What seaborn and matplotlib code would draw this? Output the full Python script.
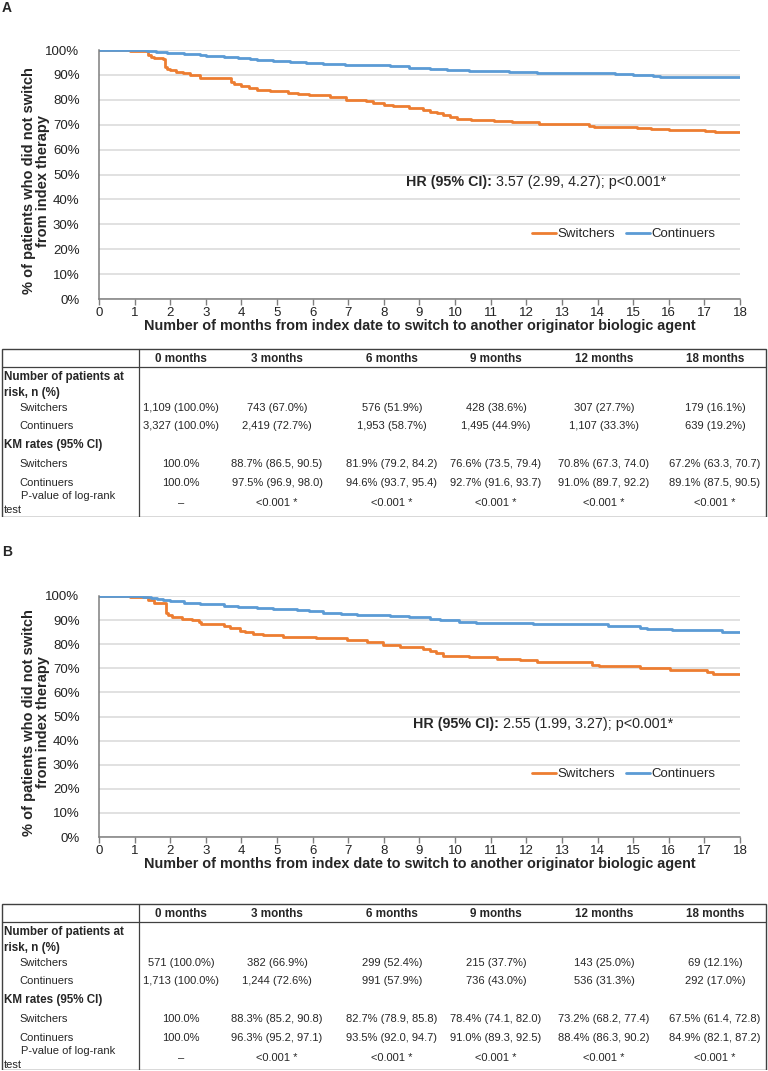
import numpy as np
import pandas as pd
import matplotlib
matplotlib.use("Agg")
import matplotlib.pyplot as plt
from matplotlib.patches import Rectangle
import seaborn as sns

# ---- KM curves (month, % not switched, steps-post) ----
a_sw_month = [0, 0.87, 1.25, 1.38, 1.45, 1.55, 1.80, 1.86, 1.90, 2.00, 2.15, 2.35, 2.55, 2.84, 3.30,
              3.72, 3.78, 4.00, 4.20, 4.43, 4.80, 5.30, 5.60, 5.90, 6.50, 6.95, 7.50, 7.70, 8.00,
              8.25, 8.70, 9.10, 9.30, 9.50, 9.67, 9.85, 10.05, 10.45, 11.10, 11.60, 12.35, 13.75,
              13.90, 15.10, 15.50, 16.00, 17.03, 17.30, 17.90, 18.00]
a_sw_pct = [100, 99.7, 99.4, 98.0, 97.0, 96.7, 96.3, 93.0, 92.3, 91.8, 91.2, 90.6, 90.1, 88.8, 88.6,
            87.0, 86.2, 85.4, 84.6, 84.0, 83.4, 82.9, 82.3, 81.8, 81.1, 80.1, 79.5, 78.6, 78.0,
            77.4, 76.6, 76.1, 75.2, 74.5, 73.7, 72.9, 72.4, 71.9, 71.4, 71.0, 70.4, 69.4,
            69.0, 68.7, 68.3, 67.9, 67.5, 67.1, 66.9, 66.9]
a_co_month = [0, 1.35, 1.60, 1.90, 2.40, 2.84, 3.00, 3.50, 3.90, 4.24, 4.43, 4.90, 5.37, 5.80, 6.30,
              6.90, 7.42, 8.17, 8.70, 9.30, 9.77, 10.40, 10.90, 11.50, 12.30, 13.20, 14.50, 15.00,
              15.57, 15.76, 18.00]
a_co_pct = [100, 99.6, 99.1, 98.6, 98.3, 97.8, 97.5, 97.1, 96.7, 96.3, 95.8, 95.4, 95.1, 94.7, 94.3,
            94.1, 93.9, 93.5, 92.9, 92.5, 92.0, 91.7, 91.5, 91.2, 90.9, 90.6, 90.3, 89.9,
            89.6, 89.2, 89.2]

b_sw_month = [0, 0.87, 1.24, 1.38, 1.55, 1.88, 1.95, 2.04, 2.32, 2.60, 2.80, 2.86, 3.50, 3.68, 3.96,
              4.10, 4.33, 4.61, 5.17, 6.10, 6.96, 7.52, 7.98, 8.45, 9.10, 9.30, 9.45, 9.67, 10.40,
              11.17, 11.83, 12.30, 13.85, 14.05, 15.20, 16.04, 17.07, 17.25, 18.00]
b_sw_pct = [100, 99.7, 99.4, 98.3, 97.0, 92.8, 92.0, 91.4, 90.5, 90.0, 89.3, 88.4, 87.7, 86.6, 85.6,
            85.0, 84.4, 83.8, 83.1, 82.4, 81.7, 80.8, 79.7, 78.7, 78.2, 77.3, 76.5, 75.3, 74.6,
            73.9, 73.3, 72.8, 71.5, 71.0, 70.3, 69.4, 68.6, 67.6, 67.6]
b_co_month = [0, 1.24, 1.45, 1.62, 1.80, 2.00, 2.40, 2.84, 3.50, 3.90, 4.43, 4.90, 5.55, 5.90, 6.30,
              6.80, 7.24, 7.70, 8.17, 8.70, 9.30, 9.58, 10.10, 10.60, 11.40, 12.20, 14.30, 15.20,
              15.38, 16.10, 17.50, 18.00]
b_co_pct = [100, 99.7, 99.2, 98.8, 98.3, 97.9, 97.2, 96.5, 95.9, 95.4, 94.9, 94.5, 94.1, 93.6, 93.0,
            92.6, 92.3, 92.0, 91.7, 91.3, 90.6, 89.9, 89.4, 89.0, 88.6, 88.2, 87.4, 86.9,
            86.3, 85.8, 84.9, 84.9]

a_hr = "3.57 (2.99, 4.27); p<0.001*"
b_hr = "2.55 (1.99, 3.27); p<0.001*"

# ---- tables ----
tbl_cols = ["0 months", "3 months", "6 months", "9 months", "12 months", "18 months"]
a_risk_sw = ["1,109 (100.0%)", "743 (67.0%)", "576 (51.9%)", "428 (38.6%)", "307 (27.7%)", "179 (16.1%)"]
a_risk_co = ["3,327 (100.0%)", "2,419 (72.7%)", "1,953 (58.7%)", "1,495 (44.9%)", "1,107 (33.3%)", "639 (19.2%)"]
a_km_sw = ["100.0%", "88.7% (86.5, 90.5)", "81.9% (79.2, 84.2)", "76.6% (73.5, 79.4)", "70.8% (67.3, 74.0)", "67.2% (63.3, 70.7)"]
a_km_co = ["100.0%", "97.5% (96.9, 98.0)", "94.6% (93.7, 95.4)", "92.7% (91.6, 93.7)", "91.0% (89.7, 92.2)", "89.1% (87.5, 90.5)"]
b_risk_sw = ["571 (100.0%)", "382 (66.9%)", "299 (52.4%)", "215 (37.7%)", "143 (25.0%)", "69 (12.1%)"]
b_risk_co = ["1,713 (100.0%)", "1,244 (72.6%)", "991 (57.9%)", "736 (43.0%)", "536 (31.3%)", "292 (17.0%)"]
b_km_sw = ["100.0%", "88.3% (85.2, 90.8)", "82.7% (78.9, 85.8)", "78.4% (74.1, 82.0)", "73.2% (68.2, 77.4)", "67.5% (61.4, 72.8)"]
b_km_co = ["100.0%", "96.3% (95.2, 97.1)", "93.5% (92.0, 94.7)", "91.0% (89.3, 92.5)", "88.4% (86.3, 90.2)", "84.9% (82.1, 87.2)"]
pvals = ["\u2013", "<0.001 *", "<0.001 *", "<0.001 *", "<0.001 *", "<0.001 *"]

ORANGE = "#ED7D31"
BLUE = "#5B9BD5"
W, H = 768, 1071

sns.set_theme(style="white")
plt.rcParams['font.family'] = ['Liberation Sans', 'DejaVu Sans']

fig = plt.figure(figsize=(W / 100, H / 100), dpi=100)
fig.patch.set_facecolor("white")


def km_panel(top, bottom, sw_m, sw_p, co_m, co_p, hr, hr_x, letter, letter_y):
    ax = fig.add_axes([99 / W, 1 - bottom / H, 641 / W, (bottom - top) / H])
    df = pd.concat([
        pd.DataFrame({"month": sw_m, "pct": sw_p, "group": "Switchers"}),
        pd.DataFrame({"month": co_m, "pct": co_p, "group": "Continuers"}),
    ])
    sns.lineplot(data=df, x="month", y="pct", hue="group", palette=[ORANGE, BLUE],
                 estimator=None, sort=False, drawstyle="steps-post", linewidth=2.0,
                 legend=False, ax=ax)
    ax.set_xlim(0, 18)
    ax.set_ylim(0, 100)
    ax.set_xticks(range(0, 19))
    ax.set_yticks(range(0, 101, 10))
    ax.set_yticklabels([f"{v}%" for v in range(0, 101, 10)])
    ax.yaxis.grid(True, color="#d9d9d9", linewidth=1.1)
    ax.set_axisbelow(True)
    for s in ["top", "right"]:
        ax.spines[s].set_visible(False)
    for s in ["left", "bottom"]:
        ax.spines[s].set_color("#7f7f7f")
        ax.spines[s].set_linewidth(1.1)
    ax.tick_params(axis="x", bottom=True, length=4, width=1, color="#7f7f7f",
                   labelsize=9.5, pad=2, labelcolor="#222222")
    ax.tick_params(axis="y", left=False, labelsize=9.5, pad=8, labelcolor="#222222")
    ax.set_xlabel("Number of months from index date to switch to another originator biologic agent",
                  fontsize=10.4, fontweight="bold", labelpad=0)
    ax.set_ylabel("")
    fig.text(36 / W, 1 - ((top + bottom) / 2 + 6) / H,
             "% of patients who did not switch\nfrom index therapy",
             rotation=90, ha="center", va="center", fontsize=10.5, fontweight="bold",
             multialignment="center", linespacing=1.05)
    t1 = ax.text(hr_x, 47, "HR (95% CI):", fontsize=10.3, fontweight="bold",
                 ha="left", va="center")
    ax.annotate(" " + hr, xy=(1, 0), xycoords=t1, ha="left", va="bottom", fontsize=10.3)
    ax.legend(handles=ax.lines[:2], labels=["Switchers", "Continuers"], ncol=2,
              loc="center right", bbox_to_anchor=(0.962, 0.26), frameon=False,
              fontsize=9.5, handlelength=1.8, handletextpad=0.15, columnspacing=0.8,
              borderpad=0, borderaxespad=0)
    fig.text(2 / W, 1 - letter_y / H, letter, fontsize=10, fontweight="bold",
             ha="left", va="center")
    return ax


def table(top, bottom, risk_sw, risk_co, km_sw, km_co):
    ax = fig.add_axes([0, 1 - bottom / H, 1, (bottom - top) / H])
    ax.set_xlim(0, W)
    ax.set_ylim(bottom - top, 0)
    ax.axis("off")
    h = bottom - top
    ax.add_patch(Rectangle((2, 0.5), 764, h - 1, fill=False, ec="#404040", lw=1.0))
    ax.plot([2, 766], [19, 19], color="#404040", lw=0.9)
    ax.plot([139, 139], [0.5, h - 0.5], color="#404040", lw=0.9)
    centers = [181, 277, 392, 496, 604, 715]
    fs = 8.0
    for c, lab in zip(centers, tbl_cols):
        ax.text(c, 11, lab, ha="center", va="center", fontsize=8.4, fontweight="bold")
    ax.text(4, 29, "Number of patients at", ha="left", va="center", fontsize=8.4, fontweight="bold")
    ax.text(4, 45, "risk, n (%)", ha="left", va="center", fontsize=8.4, fontweight="bold")
    ax.text(4, 97, "KM rates (95% CI)", ha="left", va="center", fontsize=8.4, fontweight="bold")
    rows = [(60, "Switchers", risk_sw), (78, "Continuers", risk_co),
            (116, "Switchers", km_sw), (135, "Continuers", km_co)]
    for y, lab, vals in rows:
        ax.text(19, y, lab, ha="left", va="center", fontsize=fs)
        for c, v in zip(centers, vals):
            ax.text(c, y, v, ha="center", va="center", fontsize=fs)
    ax.text(21, 148, "P-value of log-rank", ha="left", va="center", fontsize=fs)
    ax.text(4, 162, "test", ha="left", va="center", fontsize=fs)
    for c, v in zip(centers, pvals):
        ax.text(c, 155, v, ha="center", va="center", fontsize=fs)


km_panel(50, 299, a_sw_month, a_sw_pct, a_co_month, a_co_pct, a_hr, 8.62, "A", 8)
table(348, 517, a_risk_sw, a_risk_co, a_km_sw, a_km_co)
km_panel(596, 837, b_sw_month, b_sw_pct, b_co_month, b_co_pct, b_hr, 8.82, "B", 552)
table(903, 1070, b_risk_sw, b_risk_co, b_km_sw, b_km_co)

fig.savefig("out.png", dpi=100, facecolor="white")
